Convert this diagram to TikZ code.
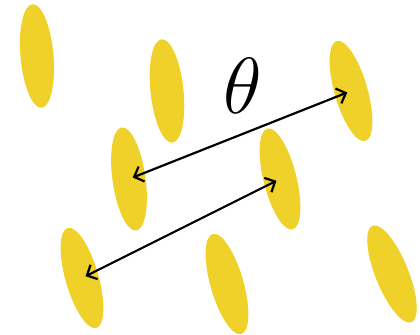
\documentclass[tikz,border=0pt]{standalone}
\usetikzlibrary{shapes.geometric,arrows.meta}

\definecolor{grainyellow}{RGB}{239,209,42}

\begin{document}
\begin{tikzpicture}[
    x=0.5pt,
    y=-0.5pt,
    line cap=round,
    line join=round,
    grain/.style={
        ellipse,
        draw=none,
        fill=grainyellow,
        inner sep=0pt,
        minimum width=16.5pt,
        minimum height=52pt
    },
    spacing/.style={
        line width=1.1pt,
        {Straight Barb[length=4pt,width=8pt]}-{Straight Barb[length=4pt,width=8pt]},
        shorten <=2pt,
        shorten >=2pt
    },
    label/.style={
        font=\Huge,
        scale=1.6
    }
]

% =================================================
% Рамка рисунка
% =================================================

\useasboundingbox (0,0) rectangle (420,335);

% =================================================
% Частицы
% =================================================

\node[grain,rotate=5]  (e1) at (37,56)   {};
\node[grain,rotate=6]  (e2) at (167,91)  {};
\node[grain,rotate=16] (e3) at (351,91)  {};
\node[grain,rotate=8]  (e4) at (129,179) {};
\node[grain,rotate=14] (e5) at (280,179) {};
\node[grain,rotate=16] (e6) at (82,278)  {};
\node[grain,rotate=16] (e7) at (227,284) {};
\node[grain,rotate=22] (e8) at (392,274) {};

% =================================================
% Расстояния между частицами
% =================================================

\draw[spacing] (e3.center) -- (e4.center);
\draw[spacing] (e5.center) -- (e6.center);

% =================================================
% Подпись
% =================================================

\node[label] (theta) at (243,86) {$\theta$};

\end{tikzpicture}
\end{document}
